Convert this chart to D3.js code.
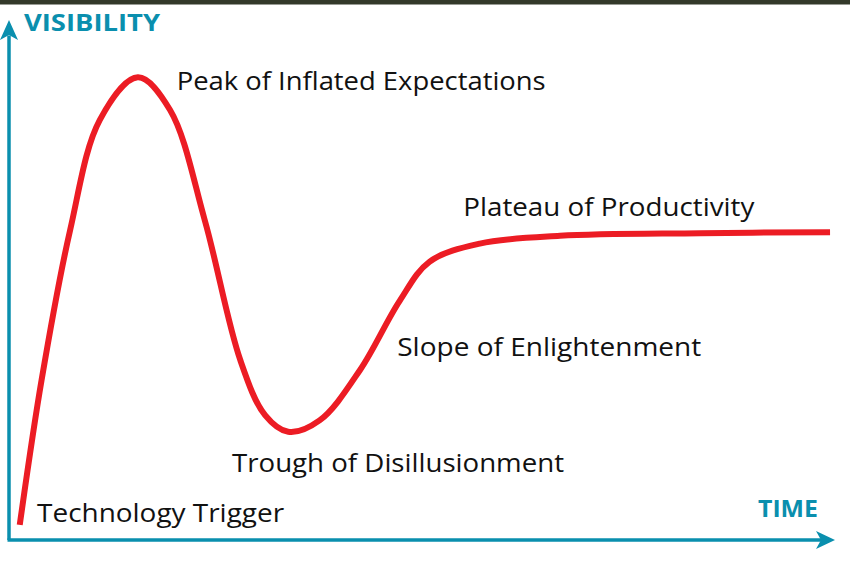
<!DOCTYPE html>
<html><head><meta charset="utf-8">
<script src="https://cdnjs.cloudflare.com/ajax/libs/d3/7.8.5/d3.min.js"></script>
<style>body{margin:0;background:#fff}</style></head>
<body><div id="chart"></div>
<script>
// hype cycle, time 0..100, visibility 0..100
var time = [1.3, 3.95, 7.4, 11, 15.6, 19.5, 23.7, 28, 31, 33.8, 37.6, 42.5, 47.3, 50.9, 57, 66.7, 83.7, 99.4];
var visibility = [2.9, 30.8, 59.6, 80.8, 89, 82.7, 61.5, 34.6, 24, 20.8, 23, 32.7, 46, 53.5, 57, 58.5, 59, 59.2];
var phases = ["Technology Trigger", "Peak of Inflated Expectations", "Trough of Disillusionment", "Slope of Enlightenment", "Plateau of Productivity"];
var phaseAt = [[3.4, 3.4], [20.3, 86.5], [27, 13], [47, 35.4], [55, 62.3]];
var phaseLen = [247, 369, 332, 304, 291];

var W = 850, H = 564, teal = "#0a8fae";
var svg = d3.select("#chart").append("svg").attr("width", W).attr("height", H);
svg.append("rect").attr("width", W).attr("height", 4.5).attr("fill", "#33392a");

var x = d3.scaleLinear().domain([0, 100]).range([9, 835]);
var y = d3.scaleLinear().domain([0, 100]).range([540, 20]);

// axes
svg.append("line").attr("x1", x(0)).attr("y1", y(0)).attr("x2", x(0)).attr("y2", y(97))
  .attr("stroke", teal).attr("stroke-width", 3.5);
svg.append("line").attr("x1", x(0) - 1.5).attr("y1", y(0)).attr("x2", x(98.5)).attr("y2", y(0))
  .attr("stroke", teal).attr("stroke-width", 3.5);
svg.append("path").attr("fill", teal)
  .attr("d", "M" + x(0) + "," + y(100) + "l-9,20 l9,-5 l9,5z");
svg.append("path").attr("fill", teal)
  .attr("d", "M" + x(100) + "," + y(0) + "l-19,-9 l5,9 l-5,9z");

svg.append("text").attr("x", 24).attr("y", 31).text("VISIBILITY")
  .attr("font-family", "Open Sans").attr("font-weight", "bold").attr("font-size", 24)
  .attr("fill", teal).attr("textLength", 136).attr("lengthAdjust", "spacingAndGlyphs");
svg.append("text").attr("x", 758).attr("y", 517).text("TIME")
  .attr("font-family", "Open Sans").attr("font-weight", "bold").attr("font-size", 23)
  .attr("fill", teal).attr("textLength", 60).attr("lengthAdjust", "spacingAndGlyphs");

var line = d3.line().x(function(d, i){ return x(d); }).y(function(d, i){ return y(visibility[i]); })
  .curve(d3.curveCatmullRom.alpha(0.5));
svg.append("path").attr("d", line(time)).attr("fill", "none")
  .attr("stroke", "#ec1c24").attr("stroke-width", 6).attr("stroke-linecap", "butt");

svg.selectAll(".phase").data(phases).enter().append("text")
  .attr("class", "phase")
  .attr("x", function(d, i){ return x(phaseAt[i][0]); })
  .attr("y", function(d, i){ return y(phaseAt[i][1]); })
  .attr("textLength", function(d, i){ return phaseLen[i]; })
  .attr("lengthAdjust", "spacingAndGlyphs")
  .attr("font-family", "Open Sans").attr("font-size", 25).attr("fill", "#111")
  .text(function(d){ return d; });
</script></body></html>
